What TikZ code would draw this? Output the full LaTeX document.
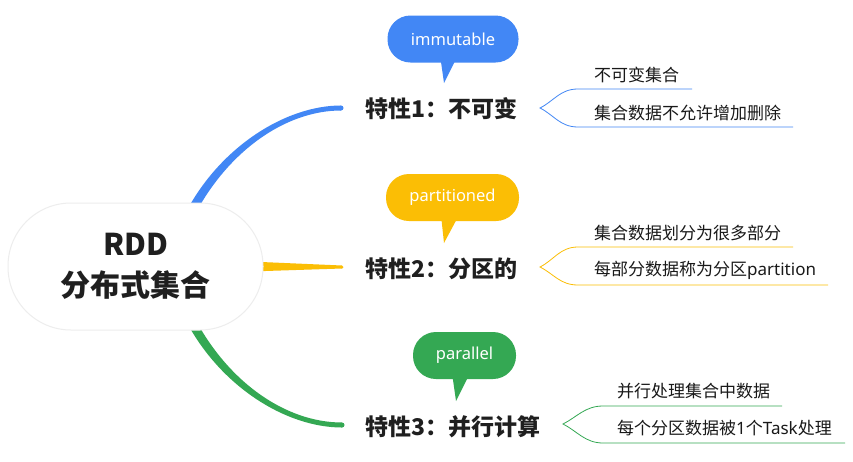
\documentclass[tikz,border=0pt]{standalone}
\usepackage{fontspec}
\setmainfont{Noto Sans}
\newfontfamily\cjk{Noto Sans CJK SC}
\usetikzlibrary{backgrounds}
\definecolor{cblue}{HTML}{4287F5}
\definecolor{cyellow}{HTML}{FBBE05}
\definecolor{cgreen}{HTML}{34A853}
\begin{document}
\begin{tikzpicture}[x=1pt,y=-1pt,
  lab/.style={font=\cjk\bfseries\fontsize{23}{26}\selectfont, text=black!88, inner sep=0pt, anchor=west},
  leaf/.style={font=\fontsize{17}{20}\selectfont, text=black!90, inner sep=0pt, anchor=west},
  bubble/.style={rounded corners=23pt, minimum height=47pt, text=white, font=\fontsize{16.5}{19}\selectfont, inner sep=0pt},
  twig/.style={line width=0.8pt},
]
\useasboundingbox (0,0) rectangle (853,461);

% root
\node[draw=black!7, line width=1pt, fill=white, rounded corners=63pt, minimum width=255pt, minimum height=127pt,
  align=center, font=\cjk\bfseries\fontsize{30}{41}\selectfont, text=black!88] (root) at (135.5,266.5) {RDD\\分布式集合};

% labels
\node[lab] (l1) at (365,109) {特性1：不可变};
\node[lab] (l2) at (365,269) {特性2：分区的};
\node[lab] (l3) at (365,427) {特性3：并行计算};

\coordinate (e1) at (341,108);
\coordinate (e2) at (342,267);
\coordinate (e3) at (342,425);

% main branches behind root
\begin{scope}[on background layer]
\fill[white] (0,0) rectangle (853,461);
\fill[cblue] (184,216) .. controls (218,148) and (285,105.5) .. (341,105.5) -- (341,110.5) .. controls (285,110.5) and (226,152) .. (192,220) -- cycle;
\fill[cblue] (e1) circle (2.5pt);
\fill[cyellow] (250,261.5) -- (342,265.5) -- (342,268.5) -- (250,271.5) -- cycle;
\fill[cyellow] (e2) circle (1.5pt);
\fill[cgreen] (184,317) .. controls (218,385) and (285,427.5) .. (342,427.5) -- (342,422.5) .. controls (285,422.5) and (226,381) .. (192,313) -- cycle;
\fill[cgreen] (e3) circle (2.5pt);
\end{scope}

% callouts
\node[bubble, fill=cblue, minimum width=131pt] (c1) at (453,39) {immutable};
\fill[cblue] (440,55) -- (458,55) -- (444,83) -- cycle;
\node[bubble, fill=cyellow, minimum width=133pt] (c2) at (452.5,197.5) {partitioned};
\fill[cyellow] (441,215) -- (459,215) -- (444,243) -- cycle;
\node[bubble, fill=cgreen, minimum width=103pt] (c3) at (464.5,355.5) {parallel};
\fill[cgreen] (452,373) -- (470,373) -- (456,401) -- cycle;

% leaves
\node[leaf] (t11) at (594,75) {\cjk 不可变集合};
\node[leaf] (t12) at (594,113) {\cjk 集合数据不允许增加删除};
\node[leaf] (t21) at (594,233) {\cjk 集合数据划分为很多部分};
\node[leaf] (t22) at (594,270) {{\cjk 每部分数据称为分区}partition};
\node[leaf] (t31) at (617,391) {\cjk 并行处理集合中数据};
\node[leaf] (t32) at (617,428) {{\cjk 每个分区数据被}1{\cjk 个}Task{\cjk 处理}};

% brackets
\coordinate (j1) at (540,108);
\coordinate (j2) at (540,267);
\coordinate (j3) at (563,424);
\draw[twig,cblue] (692,89) -- (578,89) .. controls +(-18,0) and +(14,-7) .. (j1) .. controls +(14,7) and +(-18,0) .. (578,127) -- (793,127);
\draw[twig,cyellow] (793,247) -- (578,247) .. controls +(-18,0) and +(14,-7) .. (j2) .. controls +(14,7) and +(-18,0) .. (578,285) -- (828,285);
\draw[twig,cgreen] (782,406) -- (603,406) .. controls +(-18,0) and +(14,-7) .. (j3) .. controls +(14,7) and +(-18,0) .. (603,443) -- (845,443);
\end{tikzpicture}
\end{document}
